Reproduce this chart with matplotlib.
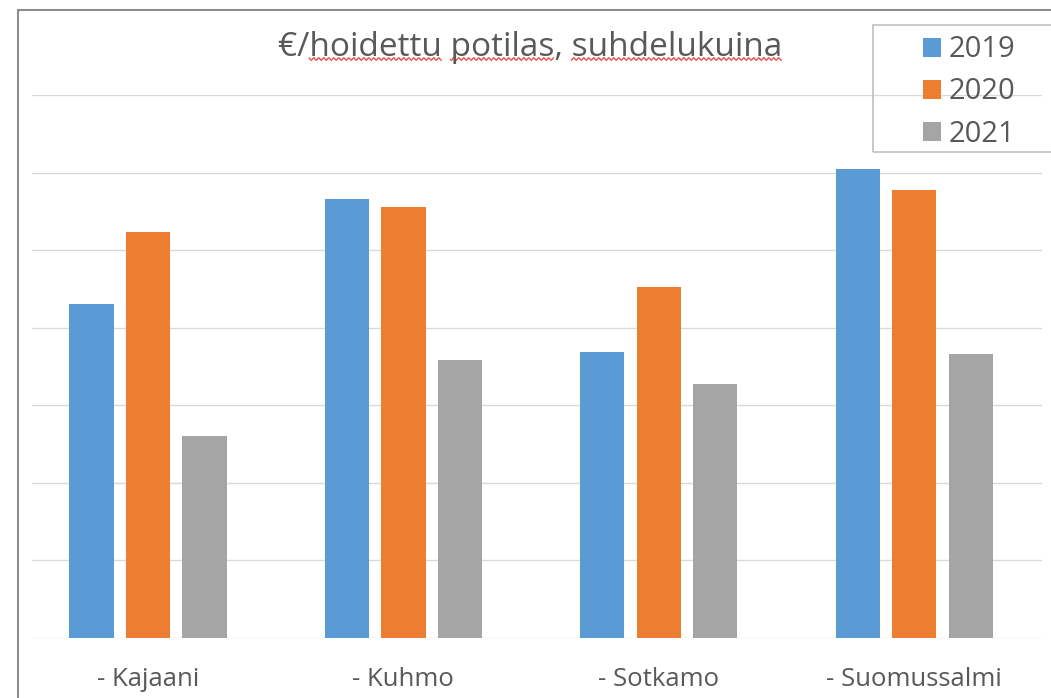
import matplotlib
matplotlib.use("Agg")
import matplotlib.pyplot as plt
import numpy as np
from matplotlib.patches import Rectangle, Patch
from matplotlib.lines import Line2D
from matplotlib.font_manager import FontProperties

plt.rcParams['font.family'] = ['Open Sans', 'DejaVu Sans']

# data
municipalities = ['- Kajaani', '- Kuhmo', '- Sotkamo', '- Suomussalmi']
years = ['2019', '2020', '2021']
v2019 = [4.30, 5.66, 3.69, 6.05]
v2020 = [5.24, 5.55, 4.53, 5.77]
v2021 = [2.61, 3.58, 3.27, 3.66]
title = '€/hoidettu potilas, suhdelukuina'
flagged = ['hoidettu', 'potilas', 'suhdelukuina']  # spell-check squiggles

colors = ['#5B9BD5', '#ED7D31', '#A5A5A5']
txt = '#595959'
W, H = 1051, 698

fig = plt.figure(figsize=(W / 100, H / 100), dpi=100)
ax = fig.add_axes([32 / W, 1 - 638 / H, (1042 - 32) / W, (638 - 95) / H])

x = np.arange(len(municipalities))
step, bw = 0.221, 0.173
for i, (vals, c, lab) in enumerate(zip([v2019, v2020, v2021], colors, years)):
    ax.bar(x + (i - 1) * step, vals, width=bw, color=c, label=lab, zorder=3)

ax.set_xlim(-0.454, 3.50)
ax.set_ylim(0, 7)
ax.set_yticks(np.arange(0, 8))
ax.set_yticklabels([])
ax.tick_params(axis='y', length=0)
ax.grid(axis='y', color='#D9D9D9', linewidth=1, zorder=0)
ax.set_xticks(x)
ax.set_xticklabels(municipalities, fontsize=18.5, color=txt)
ax.tick_params(axis='x', length=0, pad=21)
for s in ax.spines.values():
    s.set_visible(False)

# title
tsize = 24
tx, ty = 530, 47
fig.text(tx / W, 1 - ty / H, title, ha='center', va='center',
         fontsize=tsize, color=txt)

# red wavy underlines under the flagged words
fig.canvas.draw()
rend = fig.canvas.get_renderer()
fp = FontProperties(family=['Open Sans', 'DejaVu Sans'], size=tsize)
def tw(s):
    return rend.get_text_width_height_descent(s, fp, ismath=False)[0]
x0 = tx - tw(title) / 2
for w in flagged:
    k = title.index(w)
    a = x0 + tw(title[:k])
    b = x0 + tw(title[:k + len(w)])
    xs = np.arange(a, b, 1.0)
    ys = 59 + 1.3 * np.sin(xs * 2 * np.pi / 5)
    fig.add_artist(Line2D(xs / W, 1 - ys / H, transform=fig.transFigure,
                          color='#E8413C', linewidth=0.9))

# outer chart frame (partly cut off)
fig.patches.append(Rectangle((18 / W, -0.05), 1.2, 1 - 10 / H + 0.05,
                             transform=fig.transFigure, fill=False,
                             edgecolor='#8C8C8C', linewidth=1.5))

# legend box (cut off at the right)
fig.patches.append(Rectangle((873 / W, 1 - 152 / H), 0.3, 127 / H,
                             transform=fig.transFigure, fill=False,
                             edgecolor='#BFBFBF', linewidth=1.2))
handles = [Patch(facecolor=c) for c in colors]
leg = fig.legend(handles, years, loc='upper left',
                 bbox_to_anchor=(900 / W, 1 - 12 / H), frameon=False,
                 fontsize=21, handlelength=0.62, handleheight=0.62,
                 handletextpad=0.25, labelspacing=0.45, borderpad=0.3)
for t in leg.get_texts():
    t.set_color(txt)

fig.savefig('out.png', dpi=100)
